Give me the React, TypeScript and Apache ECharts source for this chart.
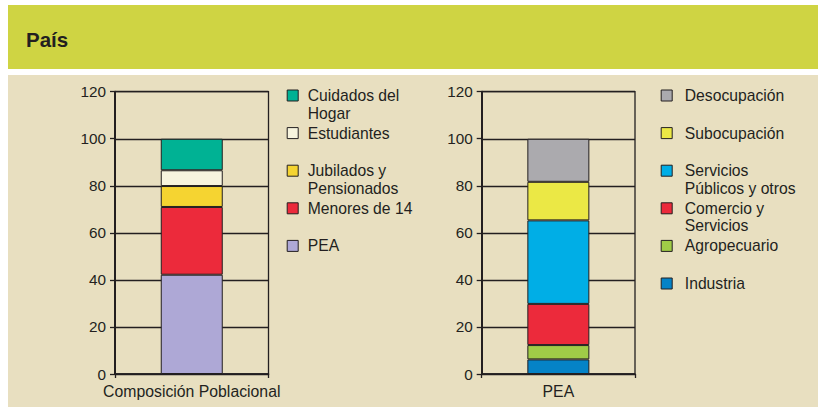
import React, { useEffect, useRef } from "react";
import * as echarts from "echarts";

const titleText = "País";

const leftCategories = ["Composición Poblacional"];
const rightCategories = ["PEA"];

const yMin = 0;
const yMax = 120;
const yInterval = 20;

// bottom -> top
const leftSeriesNames = ["PEA", "Menores de 14", "Jubilados y Pensionados", "Estudiantes", "Cuidados del Hogar"];
const leftValues = [42.2, 28.8, 8.9, 6.7, 13.4];
const leftColors = ["#aea8d6", "#ec2a3b", "#f5d431", "#f7f4de", "#00b294"];

const rightSeriesNames = ["Industria", "Agropecuario", "Comercio y Servicios", "Servicios Públicos y otros", "Subocupación", "Desocupación"];
const rightValues = [6.2, 6.1, 17.5, 35.5, 16.4, 18.3];
const rightColors = ["#0583c7", "#a0cc47", "#ec2a3b", "#00aee6", "#ebe845", "#abaaae"];

// legend order top -> bottom with display lines
const leftLegendOrder = ["Cuidados del Hogar", "Estudiantes", "Jubilados y Pensionados", "Menores de 14", "PEA"];
const rightLegendOrder = ["Desocupación", "Subocupación", "Servicios Públicos y otros", "Comercio y Servicios", "Agropecuario", "Industria"];
const legendLines: Record<string, string[]> = {
  "Cuidados del Hogar": ["Cuidados del", "Hogar"],
  "Estudiantes": ["Estudiantes"],
  "Jubilados y Pensionados": ["Jubilados y", "Pensionados"],
  "Menores de 14": ["Menores de 14"],
  "PEA": ["PEA"],
  "Desocupación": ["Desocupación"],
  "Subocupación": ["Subocupación"],
  "Servicios Públicos y otros": ["Servicios", "Públicos y otros"],
  "Comercio y Servicios": ["Comercio y", "Servicios"],
  "Agropecuario": ["Agropecuario"],
  "Industria": ["Industria"],
};

const FONT = "'Liberation Sans', Arial, Helvetica, sans-serif";
const INK = "#231f20";

export default function App() {
  const ref = useRef<HTMLDivElement>(null);

  useEffect(() => {
    if (!ref.current) return;
    const chart = echarts.init(ref.current, undefined, { renderer: "svg" });

    const LH = 17.5;
    const legendTop0 = 95.5;
    const legendStep = 37.6;

    const makeLegends = (order: string[], left: number, padLeft: number) =>
      order.map((name, i) => {
        const lines = legendLines[name];
        const center = legendTop0 + i * legendStep;
        const multi = lines.length > 1;
        const h = multi ? LH * 3 : LH;
        return {
          data: [name],
          orient: "vertical",
          left,
          top: center - h / 2,
          padding: 0,
          itemWidth: 11,
          itemHeight: 11,
          icon: "rect",
          selectedMode: false,
          itemStyle: { borderColor: INK, borderWidth: 1 },
          formatter: () => (multi ? "\n" + lines.join("\n") : lines[0]),
          textStyle: {
            fontFamily: FONT,
            fontSize: 15.7,
            color: INK,
            lineHeight: LH,
            padding: [0, 0, 0, padLeft],
          },
        };
      });

    const gridTop = 91.7;
    const gridHeight = 282.3;

    const yAxisCommon = (gridIndex: number) => ({
      type: "value",
      gridIndex,
      min: yMin,
      max: yMax,
      interval: yInterval,
      axisLine: { show: true, lineStyle: { color: INK, width: 2 } },
      axisTick: { show: true, length: 5, lineStyle: { color: INK, width: 1.3 } },
      axisLabel: { fontFamily: FONT, fontSize: 15.3, color: INK, margin: 9 },
      splitLine: { show: true, lineStyle: { color: INK, width: 1.3 } },
    });

    const xAxisCommon = (gridIndex: number, data: string[]) => ({
      type: "category",
      gridIndex,
      data,
      axisLine: { show: true, lineStyle: { color: INK, width: 1.5 } },
      axisTick: { show: true, length: 4, lineStyle: { color: INK, width: 1.3 } },
      axisLabel: { fontFamily: FONT, fontSize: 15.8, color: INK, margin: 9 },
      splitLine: { show: false },
    });

    const barStyle = { borderColor: INK, borderWidth: 1 };

    chart.setOption({
      animation: false,
      backgroundColor: "#ffffff",
      title: {
        text: titleText,
        left: 26,
        top: 29,
        padding: 0,
        textStyle: { fontFamily: FONT, fontSize: 20.5, fontWeight: "bold", color: INK, lineHeight: 20 },
      },
      graphic: [
        { type: "rect", z: -10, silent: true, shape: { x: 8, y: 5, width: 812, height: 64 }, style: { fill: "#cfd443" } },
        { type: "rect", z: -10, silent: true, shape: { x: 8, y: 75, width: 812, height: 340 }, style: { fill: "#e8dfc0" } },
      ],
      grid: [
        { left: 115, top: gridTop, width: 153.5, height: gridHeight, show: true, borderColor: INK, borderWidth: 1.3, backgroundColor: "transparent" },
        { left: 481.7, top: gridTop, width: 153.3, height: gridHeight, show: true, borderColor: INK, borderWidth: 1.3, backgroundColor: "transparent" },
      ],
      xAxis: [xAxisCommon(0, leftCategories), xAxisCommon(1, rightCategories)],
      yAxis: [yAxisCommon(0), yAxisCommon(1)],
      legend: [...makeLegends(leftLegendOrder, 286.7, 4.5), ...makeLegends(rightLegendOrder, 660.7, 7.6)],
      series: [
        ...leftSeriesNames.map((name, i) => ({
          type: "bar",
          name,
          xAxisIndex: 0,
          yAxisIndex: 0,
          stack: "left",
          barWidth: 62,
          data: [leftValues[i]],
          itemStyle: { ...barStyle, color: leftColors[i] },
        })),
        ...rightSeriesNames.map((name, i) => ({
          type: "bar",
          name,
          xAxisIndex: 1,
          yAxisIndex: 1,
          stack: "right",
          barWidth: 62,
          data: [rightValues[i]],
          itemStyle: { ...barStyle, color: rightColors[i] },
        })),
      ],
    } as any);

    return () => chart.dispose();
  }, []);

  return (
    <div
      ref={ref}
      style={{ position: "absolute", left: 0, top: 0, width: 818, height: 407, background: "#ffffff" }}
    />
  );
}
